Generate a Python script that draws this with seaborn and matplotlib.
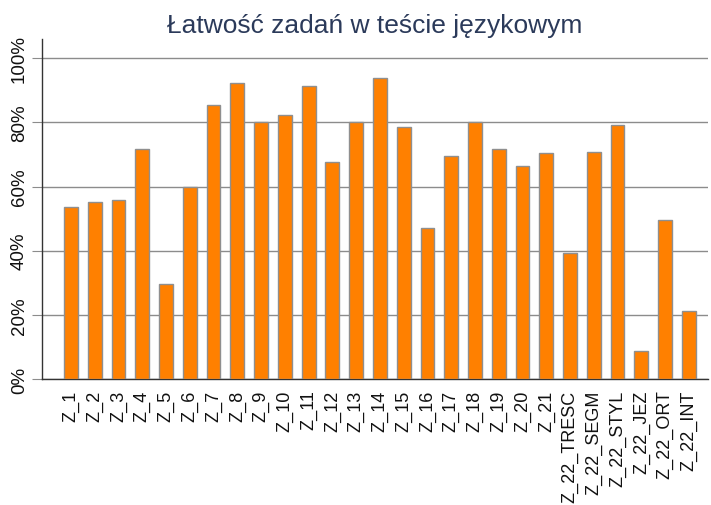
import matplotlib
matplotlib.use("Agg")
import matplotlib.pyplot as plt
import seaborn as sns
import pandas as pd
from matplotlib.ticker import PercentFormatter

# Task labels and easiness (% correct)
tasks = ["Z_1", "Z_2", "Z_3", "Z_4", "Z_5", "Z_6", "Z_7", "Z_8", "Z_9", "Z_10",
         "Z_11", "Z_12", "Z_13", "Z_14", "Z_15", "Z_16", "Z_17", "Z_18", "Z_19",
         "Z_20", "Z_21", "Z_22_TRESC", "Z_22_SEGM", "Z_22_STYL", "Z_22_JEZ",
         "Z_22_ORT", "Z_22_INT"]
easiness = [53.6, 55.2, 55.8, 71.6, 29.6, 59.9, 85.5, 92.4, 80.0, 82.2,
            91.2, 67.7, 80.2, 93.8, 78.6, 47.1, 69.5, 80.2, 71.6,
            66.4, 70.4, 39.2, 70.8, 79.3, 8.8, 49.7, 21.1]

title = "Łatwość zadań w teście językowym"

df = pd.DataFrame({"task": tasks, "easiness": easiness})

sns.set_style("white")
plt.rcParams["font.family"] = ["Liberation Sans", "DejaVu Sans"]

fig = plt.figure(figsize=(7.11, 5.06), dpi=100)
ax = fig.add_axes([0.059, 0.249, 0.937, 0.672])

# -------------------------
# Bars
# -------------------------
sns.barplot(data=df, x="task", y="easiness", color="#FF8000",
            saturation=1, width=0.58, edgecolor="#8f8f8f", linewidth=1,
            ax=ax, zorder=3)

ax.set_xlim(-1.22, len(tasks) - 0.19)
ax.set_ylim(0, 106)
ax.set_yticks([0, 20, 40, 60, 80, 100])
ax.yaxis.set_major_formatter(PercentFormatter(decimals=0))

ax.grid(axis="y", color="#8c8c8c", linewidth=1, zorder=0)
ax.set_xlabel("")
ax.set_ylabel("")

for side in ["top", "right"]:
    ax.spines[side].set_visible(False)
ax.spines["left"].set_color("#333333")
ax.spines["bottom"].set_color("#333333")
ax.spines["left"].set_linewidth(1)
ax.spines["bottom"].set_linewidth(1)

ax.tick_params(axis="y", left=True, length=7, color="#8c8c8c",
               labelsize=13.5, pad=3, labelcolor="#111111")
ax.tick_params(axis="x", bottom=False, labelsize=13, pad=4,
               labelcolor="#111111")
plt.setp(ax.get_yticklabels(), rotation=90, va="center")
plt.setp(ax.get_xticklabels(), rotation=90, ha="center", va="top")

ax.set_title(title, fontsize=19, color="#2b3a5a", pad=5)

fig.savefig("out.png", dpi=100)
plt.close()
